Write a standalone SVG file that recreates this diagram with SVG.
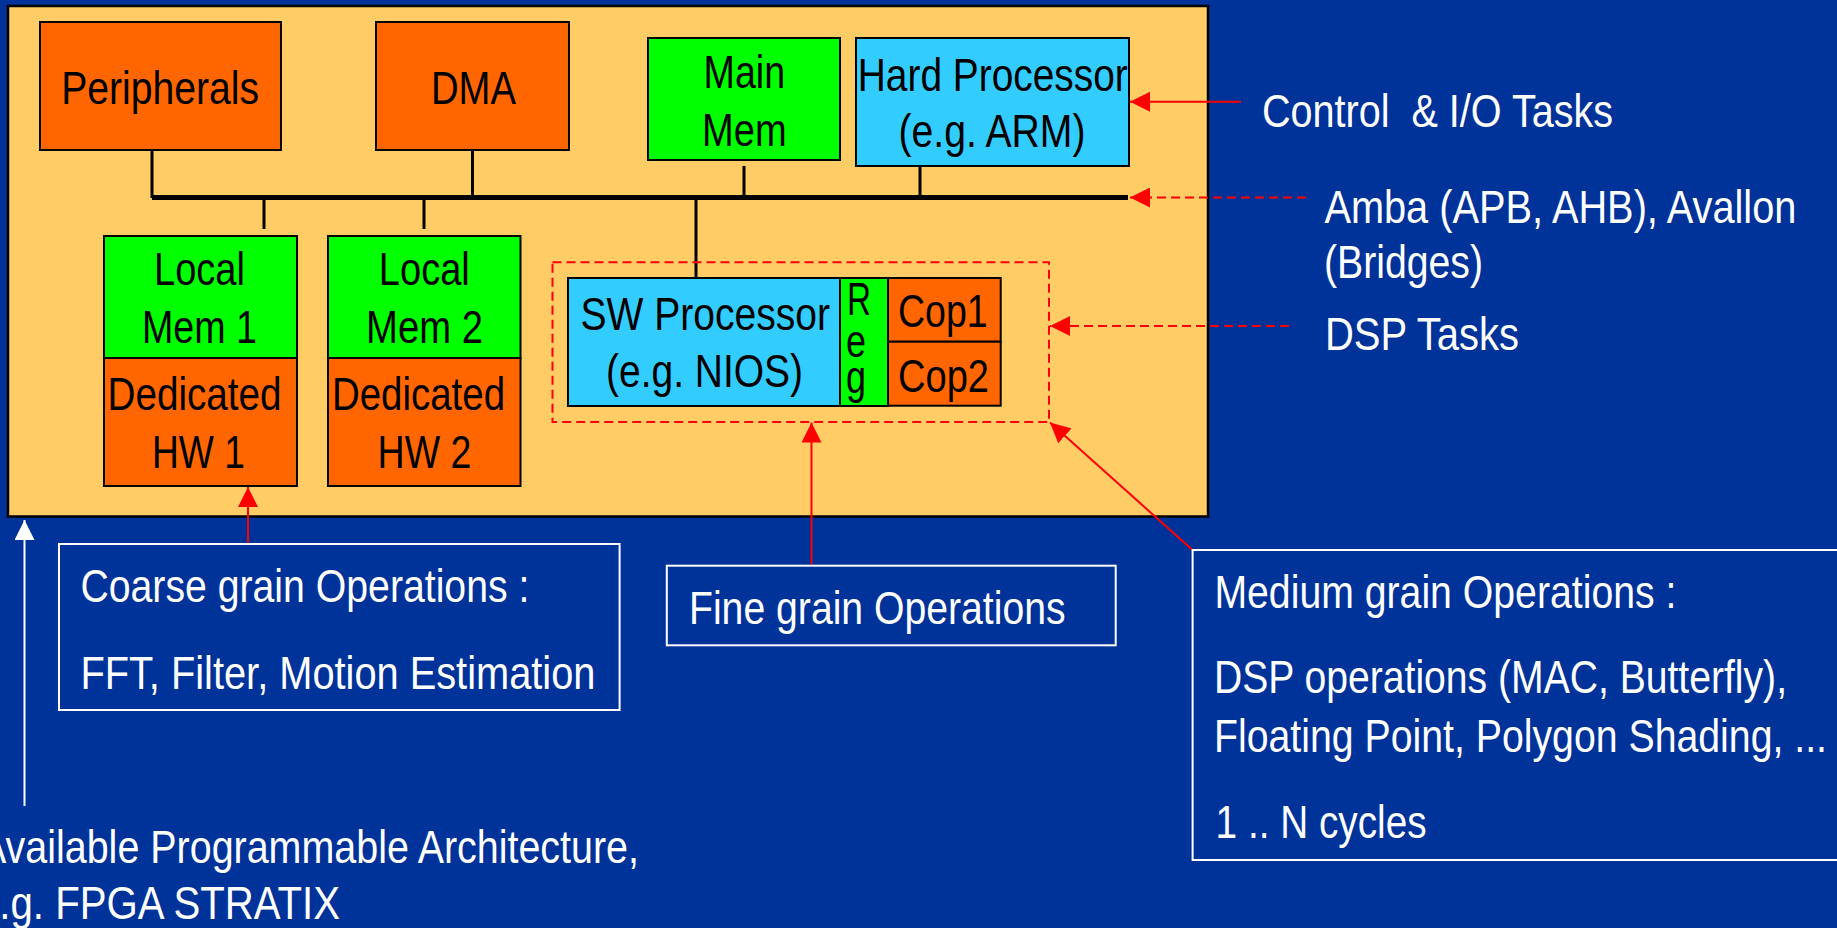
<svg xmlns="http://www.w3.org/2000/svg" width="1837" height="928" viewBox="0 0 1837 928">
<style>
.t{font-family:"Liberation Sans",Arial,sans-serif;font-size:47px;fill:#000}
.w{font-family:"Liberation Sans",Arial,sans-serif;font-size:47px;fill:#fff}
.box{stroke:#000;stroke-width:2}
.or{fill:#ff6600}.gr{fill:#00ff00}.cy{fill:#33ccff}
.wire{stroke:#000;stroke-width:3;fill:none}
.red{stroke:#ff0000;stroke-width:2;fill:none}
.dash{stroke-dasharray:9 5}
.lbl{fill:none;stroke:#fff;stroke-width:2}
</style>
<defs>
<marker id="ahR" viewBox="0 0 20 20" refX="20" refY="10" markerWidth="20" markerHeight="20" markerUnits="userSpaceOnUse" orient="auto"><path d="M0,0 L20,10 L0,20 z" fill="#ff0000"/></marker>
<marker id="ahW" viewBox="0 0 20 20" refX="20" refY="10" markerWidth="20" markerHeight="20" markerUnits="userSpaceOnUse" orient="auto"><path d="M0,0 L20,10 L0,20 z" fill="#ffffff"/></marker>
</defs>
<rect x="0" y="0" width="1837" height="928" fill="#003399"/>
<g id="fpga"><rect x="8" y="6" width="1200" height="510.5" fill="#ffcc66" stroke="#000" stroke-width="2.5"/></g>

<g id="connectors">
<line class="wire" x1="152" y1="197.5" x2="1128" y2="197.5" style="stroke-width:5"/>
<line class="wire" x1="152" y1="150" x2="152" y2="198"/>
<line class="wire" x1="472.5" y1="150" x2="472.5" y2="198"/>
<line class="wire" x1="744" y1="166" x2="744" y2="198"/>
<line class="wire" x1="920" y1="166" x2="920" y2="198"/>
<line class="wire" x1="264" y1="198" x2="264" y2="229"/>
<line class="wire" x1="424" y1="198" x2="424" y2="229"/>
<line class="wire" x1="696" y1="198" x2="696" y2="278"/>
<line class="red" x1="1241" y1="101.7" x2="1130" y2="101.7" marker-end="url(#ahR)"/>
<line class="red dash" x1="1306" y1="197.5" x2="1130" y2="197.5" marker-end="url(#ahR)"/>
<line class="red dash" x1="1289" y1="326" x2="1050" y2="326" marker-end="url(#ahR)"/>
<line class="red" x1="248" y1="544" x2="248" y2="487" marker-end="url(#ahR)"/>
<line class="red" x1="811.5" y1="565.7" x2="811.5" y2="422.5" marker-end="url(#ahR)"/>
<line class="red" x1="1192.5" y1="550" x2="1050" y2="422.5" marker-end="url(#ahR)"/>
<line x1="24.5" y1="806" x2="24.5" y2="520" stroke="#fff" stroke-width="2" marker-end="url(#ahW)"/>
</g>

<g id="peripherals"><rect class="box or" x="40" y="22" width="241" height="128"/>
<text class="t" x="61.3" y="104" textLength="197.7" lengthAdjust="spacingAndGlyphs">Peripherals</text></g>
<g id="dma"><rect class="box or" x="376" y="22" width="193" height="128"/>
<text class="t" x="431" y="104" textLength="85" lengthAdjust="spacingAndGlyphs">DMA</text></g>
<g id="mainmem"><rect class="box gr" x="648" y="38" width="192" height="122"/>
<text class="t" x="703.6" y="88.3" textLength="81.5" lengthAdjust="spacingAndGlyphs">Main</text>
<text class="t" x="702" y="145.7" textLength="84.6" lengthAdjust="spacingAndGlyphs">Mem</text></g>
<g id="hardproc"><rect class="box cy" x="856" y="38" width="273" height="128"/>
<text class="t" x="857.8" y="90.7" textLength="270" lengthAdjust="spacingAndGlyphs">Hard Processor</text>
<text class="t" x="898.5" y="146.7" textLength="187" lengthAdjust="spacingAndGlyphs">(e.g. ARM)</text></g>

<g id="localmem1"><rect class="box gr" x="104" y="236" width="193" height="122"/>
<text class="t" x="154" y="285" textLength="91" lengthAdjust="spacingAndGlyphs">Local</text>
<text class="t" x="142" y="343.3" textLength="115" lengthAdjust="spacingAndGlyphs">Mem 1</text></g>
<g id="hw1"><rect class="box or" x="104" y="358" width="193" height="128"/>
<text class="t" x="107.5" y="410" textLength="174" lengthAdjust="spacingAndGlyphs">Dedicated</text>
<text class="t" x="152" y="468.3" textLength="93" lengthAdjust="spacingAndGlyphs">HW 1</text></g>
<g id="localmem2"><rect class="box gr" x="328" y="236" width="192.5" height="122"/>
<text class="t" x="378.8" y="285" textLength="91" lengthAdjust="spacingAndGlyphs">Local</text>
<text class="t" x="366" y="343.3" textLength="117" lengthAdjust="spacingAndGlyphs">Mem 2</text></g>
<g id="hw2"><rect class="box or" x="328" y="358" width="192.5" height="128"/>
<text class="t" x="332" y="410" textLength="173" lengthAdjust="spacingAndGlyphs">Dedicated</text>
<text class="t" x="377.6" y="468.3" textLength="93.7" lengthAdjust="spacingAndGlyphs">HW 2</text></g>

<g id="dspgroup"><rect x="552.5" y="262.3" width="496.5" height="159.7" fill="none" class="red dash"/></g>
<g id="swproc"><rect class="box cy" x="568" y="278" width="272" height="128"/>
<text class="t" x="580.5" y="330" textLength="249.5" lengthAdjust="spacingAndGlyphs">SW Processor</text>
<text class="t" x="606" y="387.3" textLength="197" lengthAdjust="spacingAndGlyphs">(e.g. NIOS)</text></g>
<g id="reg"><rect class="box gr" x="840" y="278" width="48" height="128"/>
<text class="t" x="847" y="315" textLength="24" lengthAdjust="spacingAndGlyphs">R</text>
<text class="t" x="846" y="357" textLength="20" lengthAdjust="spacingAndGlyphs">e</text>
<text class="t" x="846" y="393" textLength="20" lengthAdjust="spacingAndGlyphs">g</text></g>
<g id="cop1"><rect class="box or" x="888" y="278" width="112.7" height="63.7"/>
<text class="t" x="898" y="327.3" textLength="89.7" lengthAdjust="spacingAndGlyphs">Cop1</text></g>
<g id="cop2"><rect class="box or" x="888" y="341.7" width="112.7" height="64"/>
<text class="t" x="898" y="391.7" textLength="91" lengthAdjust="spacingAndGlyphs">Cop2</text></g>

<g id="controlio"><text class="w" x="1262" y="126.7" textLength="351" lengthAdjust="spacingAndGlyphs" xml:space="preserve">Control  &amp; I/O Tasks</text></g>
<g id="amba"><text class="w" x="1324.4" y="222.7" textLength="472" lengthAdjust="spacingAndGlyphs">Amba (APB, AHB), Avallon</text>
<text class="w" x="1324" y="278.3" textLength="159" lengthAdjust="spacingAndGlyphs">(Bridges)</text></g>
<g id="dsptasks"><text class="w" x="1325" y="350" textLength="194" lengthAdjust="spacingAndGlyphs">DSP Tasks</text></g>

<g id="coarse"><rect class="lbl" x="59" y="544" width="560.6" height="166"/>
<text class="w" x="80.4" y="601.7" textLength="449" lengthAdjust="spacingAndGlyphs">Coarse grain Operations :</text>
<text class="w" x="80.4" y="689" textLength="515" lengthAdjust="spacingAndGlyphs">FFT, Filter, Motion Estimation</text></g>
<g id="fine"><rect class="lbl" x="666.8" y="565.7" width="448.9" height="79.6"/>
<text class="w" x="689" y="624" textLength="376.6" lengthAdjust="spacingAndGlyphs">Fine grain Operations</text></g>
<g id="medium"><rect class="lbl" x="1192.6" y="550" width="660" height="310"/>
<text class="w" x="1214.4" y="608.3" textLength="462" lengthAdjust="spacingAndGlyphs">Medium grain Operations :</text>
<text class="w" x="1214" y="693.3" textLength="573" lengthAdjust="spacingAndGlyphs">DSP operations (MAC, Butterfly),</text>
<text class="w" x="1214" y="751.7" textLength="613" lengthAdjust="spacingAndGlyphs">Floating Point, Polygon Shading, ...</text>
<text class="w" x="1215.6" y="838.3" textLength="211" lengthAdjust="spacingAndGlyphs">1 .. N cycles</text></g>
<g id="available"><text class="w" x="-20" y="862.7" textLength="659" lengthAdjust="spacingAndGlyphs">Available Programmable Architecture,</text>
<text class="w" x="-23" y="919.3" textLength="363" lengthAdjust="spacingAndGlyphs">e.g. FPGA STRATIX</text></g>
</svg>
